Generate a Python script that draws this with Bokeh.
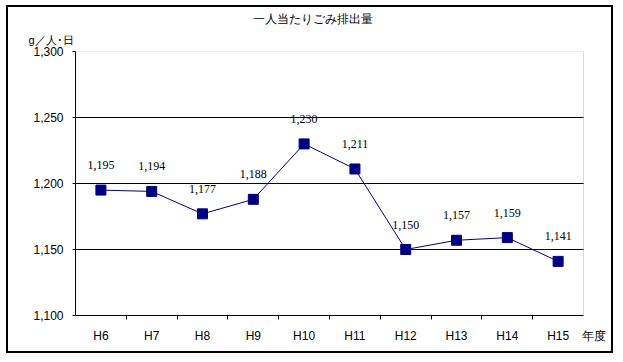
from bokeh.plotting import figure
from bokeh.models import (ColumnDataSource, LabelSet, Title, FixedTicker,
                          NumeralTickFormatter, Range1d, BoxAnnotation)
from bokeh.embed import file_html
from bokeh.resources import INLINE

categories = ["H6", "H7", "H8", "H9", "H10", "H11", "H12", "H13", "H14", "H15"]
values = [1195, 1194, 1177, 1188, 1230, 1211, 1150, 1157, 1159, 1141]
y_ticks = [1100, 1150, 1200, 1250, 1300]
title_text = "一人当たりごみ排出量"
unit_text = "g／人･日"
xunit_text = "年度"

NAVY = "#000080"
NUM_FONT = "Liberation Sans"
EXTRA_X = 0.57      # empty room right of the plot box (category units)
XUNIT_POS = 0.2     # where the 年度 label sits right of the last category

n = len(categories)
xs = [i + 0.5 for i in range(n)]
src = ColumnDataSource(dict(x=xs, y=values, lab=[f"{v:,}" for v in values]))

p = figure(width=607, height=348, output_backend="svg", toolbar_location=None,
           x_range=Range1d(0, n + EXTRA_X),
           y_range=Range1d(y_ticks[0], y_ticks[-1]),
           min_border_left=67, min_border_right=3, min_border_top=44,
           min_border_bottom=40)
p.styles = {"border": "2px solid black", "margin": "5px 0 0 6px"}
p.background_fill_color = "white"
p.border_fill_color = "white"
p.outline_line_color = None

# plot box (gray top/right edges)
p.add_layout(BoxAnnotation(left=0, right=n, bottom=y_ticks[0], top=y_ticks[-1],
                           fill_alpha=0, line_color="#808080", line_width=1,
                           level="underlay"))

# x axis: labels at centers, ticks at boundaries
xa = p.xaxis[0]
xa.bounds = (0, n)
xa.ticker = FixedTicker(ticks=xs + [n + XUNIT_POS], minor_ticks=list(range(1, n)))
labels = {x: c for x, c in zip(xs, categories)}
labels[n + XUNIT_POS] = xunit_text
xa.major_label_overrides = labels
xa.major_tick_line_color = None
xa.major_tick_out = 0
xa.major_tick_in = 0
xa.minor_tick_line_color = "black"
xa.minor_tick_in = 0
xa.minor_tick_out = 4
xa.axis_line_color = "black"
xa.major_label_standoff = 9
xa.major_label_text_font = NUM_FONT
xa.major_label_text_font_size = "12px"
xa.major_label_text_color = "black"

ya = p.yaxis[0]
ya.ticker = FixedTicker(ticks=y_ticks)
ya.formatter = NumeralTickFormatter(format="0,0")
ya.minor_tick_line_color = None
ya.major_tick_in = 0
ya.major_tick_out = 3
ya.major_label_standoff = 9
ya.axis_line_color = "black"
ya.major_label_text_font = NUM_FONT
ya.major_label_text_font_size = "12px"
ya.major_label_text_color = "black"

p.xgrid.grid_line_color = None
p.ygrid.grid_line_color = None

grid_vals = y_ticks[1:-1]
p.segment(x0=[0] * len(grid_vals), x1=[n] * len(grid_vals),
          y0=grid_vals, y1=grid_vals, line_color="black", line_width=1)

p.line("x", "y", source=src, line_color=NAVY, line_width=1)
p.scatter("x", "y", source=src, marker="square", size=10,
          fill_color=NAVY, line_color=NAVY)

p.add_layout(LabelSet(x="x", y="y", text="lab", source=src, y_offset=25,
                      text_align="center", text_baseline="middle",
                      text_font=NUM_FONT, text_font_size="12px",
                      text_color="black"))

p.add_layout(Title(text=unit_text, align="left", offset=-47, standoff=12,
                   text_font=NUM_FONT, text_font_size="11px",
                   text_font_style="normal", text_color="black",
                   text_line_height=1.0), "above")
p.add_layout(Title(text=title_text, align="left", offset=177, standoff=0,
                   text_font=NUM_FONT, text_font_size="12px",
                   text_font_style="normal", text_color="black",
                   text_line_height=1.0), "above")

open("out.html", "w").write(file_html(p, INLINE))
